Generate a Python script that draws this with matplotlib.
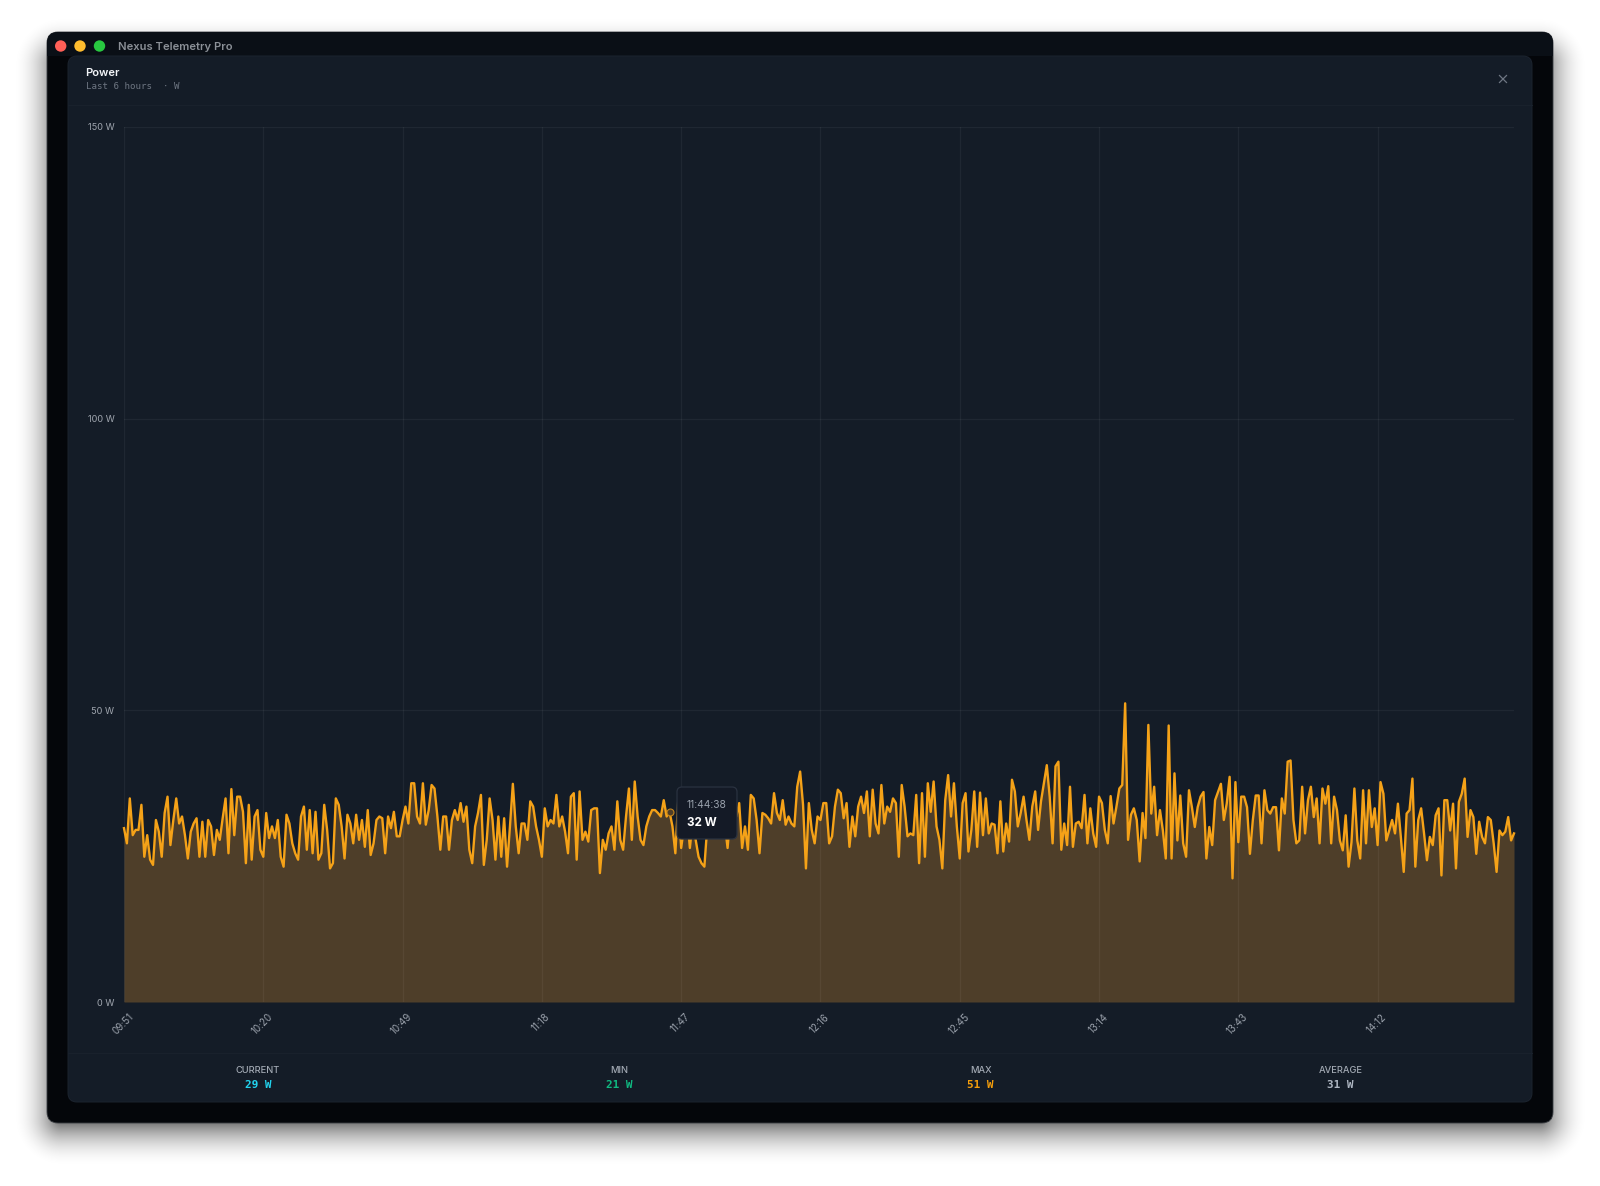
import numpy as np
import matplotlib
matplotlib.use("Agg")
import matplotlib.pyplot as plt
from matplotlib.patches import FancyBboxPatch, Circle
from matplotlib.transforms import ScaledTranslation

# ---- data ----
watts_a = [29.8,27.2,34.9,28.6,29.5,29.5,33.8,24.9,28.6,24.4,23.5,31.2,29.2,24.9,32.4,35.2,26.9,31.2,34.9,30.6,
31.8,28.6,24.6,29.2,30.6,31.5,24.9,30.9,24.9,31.2,30.1,25.2,29.5,27.8,31.5,34.9,25.5,36.5,28.6,35.2,
35.2,32.6,23.8,33.8,24.4,31.8,32.9,26.1,24.9,32.4,28.1,30.1,28.1,31.2,24.9,23.2,32.1,30.6,27.2,25.5,
24.4,31.8,33.5,26.1,32.9,25.5,32.6,24.4,25.5,33.8,29.5,22.9,23.8,34.9,33.8,30.1,24.6,32.1,30.6,27.2,
32.1,27.8,31.2,26.6,32.9,25.2,27.2,31.2,31.8,31.5,25.5,31.8,29.8,32.6,28.4,28.4,31.2,33.5,30.6,37.5,
37.5,31.8,30.6,37.5,30.4,32.9,37.2,36.6,31.8,26.1,31.8,31.8,26.1]
watts_b = [31.2,32.9,31.2,34.1,30.9,33.5,26.1,23.8,30.1,32.4,35.5,23.5,27.8,34.9,31.2,24.4,31.8,24.9,31.5,23.2,
30.1,37.4,30.1,25.5,30.6,30.6,27.8,34.4,33.5,30.1,27.8,24.9,33.2,30.1,31.2,30.6,35.5,30.1,31.8,29.2,
25.5,35.2,35.8,24.4,36.1,27.8,29.2,27.5,32.9,33.2,33.2,22.1,27.8,26.1,28.9,30.1,26.1,34.4,27.8,26.1,
31.8,36.6,27.8,37.8,31.8,27.8,26.9,30.1,31.8,32.9,32.9,32.4,31.8,34.6,31.8,32.6,30.1,25.5,34.6,26.4,
30.1,32.4,26.4,31.2,27.8,24.9,23.8,23.2,30.1,32.9,31.2,34.6,30.1,32.4,30.6,26.4,32.4,34.6,31.8,34.1,
26.4,30.1,26.1,35.5,34.9,31.2,25.5,32.4,32.1,31.5,30.6,35.8,32.4,31.2,34.6,30.4,31.8,30.6,30.1,36.9,39.5]
watts_c = [33.8,22.9,34.1,29.5,27.2,31.8,31.2,34.1,34.1,27.2,28.4,33.5,36.4,35.8,31.5,34.1,26.6,31.8,28.4,33.5,
35.2,32.4,36.1,28.4,36.4,30.6,28.9,37.2,30.6,33.5,32.6,34.9,34.1,24.9,37.2,33.5,28.4,28.9,28.6,35.5,
23.8,35.8,24.9,37.5,32.6,37.8,30.1,27.8,22.9,34.6,38.9,31.8,37.5,30.1,24.6,34.1,35.8,25.8,29.5,36.1,
26.6,35.9,28.6,34.9,28.9,30.6,30.4,25.5,34.4,25.8,30.6,27.5,38.1,36.1,30.1,32.4,35.2,31.2,27.8,33.5,
36.1,29.5,34.4,37.5,40.6,35.2,27.2,40.4,41.2,26.1,30.6,26.9,36.9,26.6,30.6,30.9,29.8,35.5,27.2,33.2,
28.9,26.6,35.2,34.1,29.5,27.2,35.3,30.6,33.5,36.6,37.2,51.2,27.8,32.1,33.2,31.2,24.1,32.4,28.1,47.5]
watts_d = [32.3,36.9,28.6,32.9,29.4,24.6,47.4,24.6,39.2,27.7,35.4,27.2,24.9,36.3,33.4,30.0,33.4,35.2,36.0,24.6,
30.0,26.9,34.6,36.0,37.4,31.2,34.0,38.6,21.2,37.7,27.4,35.2,35.2,33.4,25.4,31.2,35.4,35.4,27.2,36.3,
32.9,32.3,33.4,33.4,26.0,34.9,32.3,41.2,41.4,31.2,27.2,27.7,36.9,28.9,34.6,36.9,31.7,34.9,27.2,36.6,
34.0,37.0,27.2,35.2,32.9,27.7,26.0,32.0,23.2,27.4,36.6,27.7,24.6,36.3,27.2,36.3,30.0,33.2,26.9,37.7,
35.7,27.7,29.4,31.2,28.9,34.0,28.3,22.3,32.3,32.9,38.3,23.2,31.2,33.2,28.9,24.3,28.3,26.9,32.0,33.2,
21.7,34.6,34.6,29.4,34.0,22.9,34.3,35.7,38.3,28.3,32.9,31.7,25.4,30.9,28.3,27.2,31.7,31.2,27.2,22.3,
29.4,28.6,29.2,31.7,27.7,28.9]
watts = watts_a + watts_b + watts_c + watts_d

time_labels = ["09:51","10:20","10:49","11:18","11:47","12:16","12:45","13:14","13:43","14:12"]
samples_per_label = 48
y_ticks = [0, 50, 100, 150]
unit = "W"
stat_names = ["CURRENT", "MIN", "MAX", "AVERAGE"]
stat_values = ["29 W", "21 W", "51 W", "31 W"]
stat_colors = ["#22d3ee", "#10b981", "#f59e0b", "#aeb6c2"]
hover_index = 188
hover_time = "11:44:38"
hover_text = "32 W"

# ---- figure ----
W, H = 1600, 1186
plt.rcParams["font.family"] = ["Inter", "DejaVu Sans"]
fig = plt.figure(figsize=(W/100, H/100), dpi=100, facecolor="white")

bg = fig.add_axes([0, 0, 1, 1], zorder=0)
bg.set_xlim(0, W); bg.set_ylim(H, 0); bg.axis("off")

# soft window shadow
yy, xx = np.mgrid[0:H, 0:W]
def rrect_sdf(x0, y0, x1, y1, r):
    cx, cy = (x0+x1)/2, (y0+y1)/2
    qx = np.abs(xx-cx)-(x1-x0)/2+r
    qy = np.abs(yy-cy)-(y1-y0)/2+r
    return np.hypot(np.maximum(qx, 0), np.maximum(qy, 0))+np.minimum(np.maximum(qx, qy), 0)-r
d = rrect_sdf(47, 50, 1553, 1132, 14)
a = 0.95*np.clip((35-d)/60, 0, 1)**2
img = np.ones((H, W, 4)); img[..., :3] = 0; img[..., 3] = a
bg.imshow(img, extent=(0, W, H, 0), aspect="auto", zorder=0, interpolation="bilinear")
bg.set_xlim(0, W); bg.set_ylim(H, 0)

def rbox(x0, y0, x1, y1, r, fc, ec="none", lw=0, ax=bg, z=1):
    p = FancyBboxPatch((x0+r, y0+r), x1-x0-2*r, y1-y0-2*r,
                       boxstyle=f"round,pad={r},rounding_size={r}",
                       fc=fc, ec=ec, lw=lw, zorder=z)
    ax.add_patch(p)
    return p

rbox(47, 32, 1553, 1123, 11, "#04060a", ec="#3a3d42", lw=0.6, z=1)
clip = rbox(47, 32, 1553, 1123, 11, "none", z=1)
strip = bg.fill_between([47, 1553], 32, 56, color="#0a0f16", lw=0, zorder=1.2)
strip.set_clip_path(clip)
rbox(68, 56, 1532, 1102, 9, "#141c27", ec="#1c242f", lw=0.7, z=2)

for cx, col in zip([60.7, 80, 99.5], ["#ff5f57", "#febc2e", "#28c840"]):
    bg.add_patch(Circle((cx, 46), 5.7, fc=col, ec="none", zorder=3))
bg.text(118, 46.5, "Nexus Telemetry Pro", color="#8b9097", fontsize=8.05, fontweight="semibold", va="center", ha="left", zorder=3)
bg.text(85.5, 73.5, "Power", color="#f2f4f7", fontsize=8.0, fontweight="semibold", va="center", ha="left", zorder=3)
bg.text(85.5, 86.5, f"Last 6 hours  · {unit}", color="#6f7783", fontsize=6.55, family="DejaVu Sans Mono", va="center", ha="left", zorder=3)
bg.plot([1499.5, 1506.5], [75.5, 82.5], color="#6f7783", lw=0.9, zorder=3)
bg.plot([1499.5, 1506.5], [82.5, 75.5], color="#6f7783", lw=0.9, zorder=3)
bg.plot([68, 1532], [105, 105], color="#19212c", lw=0.8, zorder=3)
bg.plot([68, 1532], [1052.5, 1052.5], color="#19212c", lw=0.8, zorder=3)

for cx, n, v, c in zip([258, 619.5, 980.6, 1340.7], stat_names, stat_values, stat_colors):
    bg.text(cx, 1070.5, n, color="#a3aab4", fontsize=6.7, fontweight="medium", va="center", ha="center", zorder=3)
    bg.text(cx, 1084.5, v, color=c, fontsize=7.9, fontweight="bold", family="DejaVu Sans Mono", va="center", ha="center", zorder=3)

# ---- chart ----
L, R, T, B = 124, 1514, 127, 1002
ax = fig.add_axes([L/W, 1-B/H, (R-L)/W, (B-T)/H], zorder=1)
ax.patch.set_alpha(0)
x = np.arange(len(watts))
ax.set_xlim(0, len(watts)-1)
ax.set_ylim(0, 150)
ax.fill_between(x, watts, 0, color="#4e3e29", lw=0, zorder=1)
ax.plot(x, watts, color="#f5a218", lw=1.7, solid_joinstyle="round", zorder=3, clip_on=False)
ticks = np.arange(len(time_labels))*samples_per_label
ax.set_xticks(ticks)
ax.set_xticklabels(time_labels, rotation=45, ha="center", va="top", color="#9aa1ab", fontsize=7.0)
ax.set_yticks(y_ticks)
ax.set_yticklabels([f"{v} {unit}" for v in y_ticks], color="#a0a6af", fontsize=6.6)
ax.tick_params(axis="x", length=0, pad=7)
ax.tick_params(axis="y", length=0, pad=7)
off = ScaledTranslation(-1/100, 0, fig.dpi_scale_trans)
for t in ax.get_xticklabels():
    t.set_transform(t.get_transform()+off)
ax.grid(True, color="#ffffff", alpha=0.05, lw=0.9, zorder=2)
ax.set_axisbelow(False)
for s in ax.spines.values():
    s.set_visible(False)
for l in ax.get_xgridlines()+ax.get_ygridlines():
    l.set_zorder(2)
ax.plot([hover_index], [watts[hover_index]], "o", ms=5, mfc="#4e3e29", mec="#c4851c", mew=0.8, zorder=4)

# ---- tooltip ----
top = fig.add_axes([0, 0, 1, 1], zorder=2)
top.set_xlim(0, W); top.set_ylim(H, 0); top.axis("off"); top.patch.set_alpha(0)
rbox(677, 787, 737, 839, 5, "#141a26", ec="#2a3240", lw=0.9, ax=top, z=5)
top.text(687, 804.5, hover_time, color="#9aa2ad", fontsize=7.4, va="center", ha="left", zorder=6)
top.text(687, 823, hover_text, color="#ffffff", fontsize=8.4, fontweight="bold", va="center", ha="left", zorder=6)

fig.savefig("out.png", dpi=100)
